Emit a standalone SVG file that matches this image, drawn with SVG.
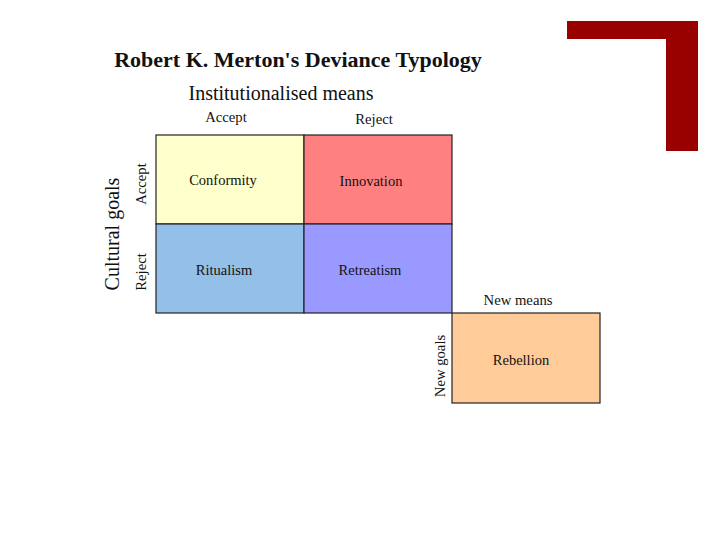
<svg xmlns="http://www.w3.org/2000/svg" width="720" height="540" viewBox="0 0 720 540">
<style>
text{font-family:"Liberation Serif","Times New Roman",serif;fill:#111}
.cell{stroke:#222;stroke-width:1.2}
.lbl{font-size:14.5px;text-anchor:middle;dominant-baseline:central}
.ax{font-size:14.7px;text-anchor:middle}
</style>
<rect width="720" height="540" fill="#fff"/>
<g id="corner" fill="#990000">
<rect x="567" y="21" width="131" height="18"/>
<rect x="666" y="21" width="32" height="130"/>
</g>
<text x="298" y="67" font-size="22" font-weight="bold" text-anchor="middle">Robert K. Merton's Deviance Typology</text>
<text x="281" y="100" font-size="20" text-anchor="middle">Institutionalised means</text>
<text class="ax" x="226" y="122">Accept</text>
<text class="ax" x="374" y="124">Reject</text>
<text x="112" y="234" font-size="20" text-anchor="middle" dominant-baseline="central" transform="rotate(-90 112 234)">Cultural goals</text>
<text class="ax" x="141" y="184" dominant-baseline="central" transform="rotate(-90 141 184)">Accept</text>
<text class="ax" x="141" y="272" dominant-baseline="central" transform="rotate(-90 141 272)">Reject</text>
<g id="conformity"><rect class="cell" x="156" y="135" width="148" height="89" fill="#FFFFCC"/><text class="lbl" x="223" y="180">Conformity</text></g>
<g id="innovation"><rect class="cell" x="304" y="135" width="148" height="89" fill="#FF8080"/><text class="lbl" x="371" y="181">Innovation</text></g>
<g id="ritualism"><rect class="cell" x="156" y="224" width="148" height="89" fill="#94BFE8"/><text class="lbl" x="224" y="270">Ritualism</text></g>
<g id="retreatism"><rect class="cell" x="304" y="224" width="148" height="89" fill="#9999FF"/><text class="lbl" x="370" y="270">Retreatism</text></g>
<g id="rebellion"><rect class="cell" x="452" y="313" width="148" height="90" fill="#FFCC99"/><text class="lbl" x="521" y="360">Rebellion</text></g>
<text class="ax" x="518" y="305">New means</text>
<text class="ax" x="440" y="366" dominant-baseline="central" transform="rotate(-90 440 366)">New goals</text>
<g id="connectors"/>
</svg>
